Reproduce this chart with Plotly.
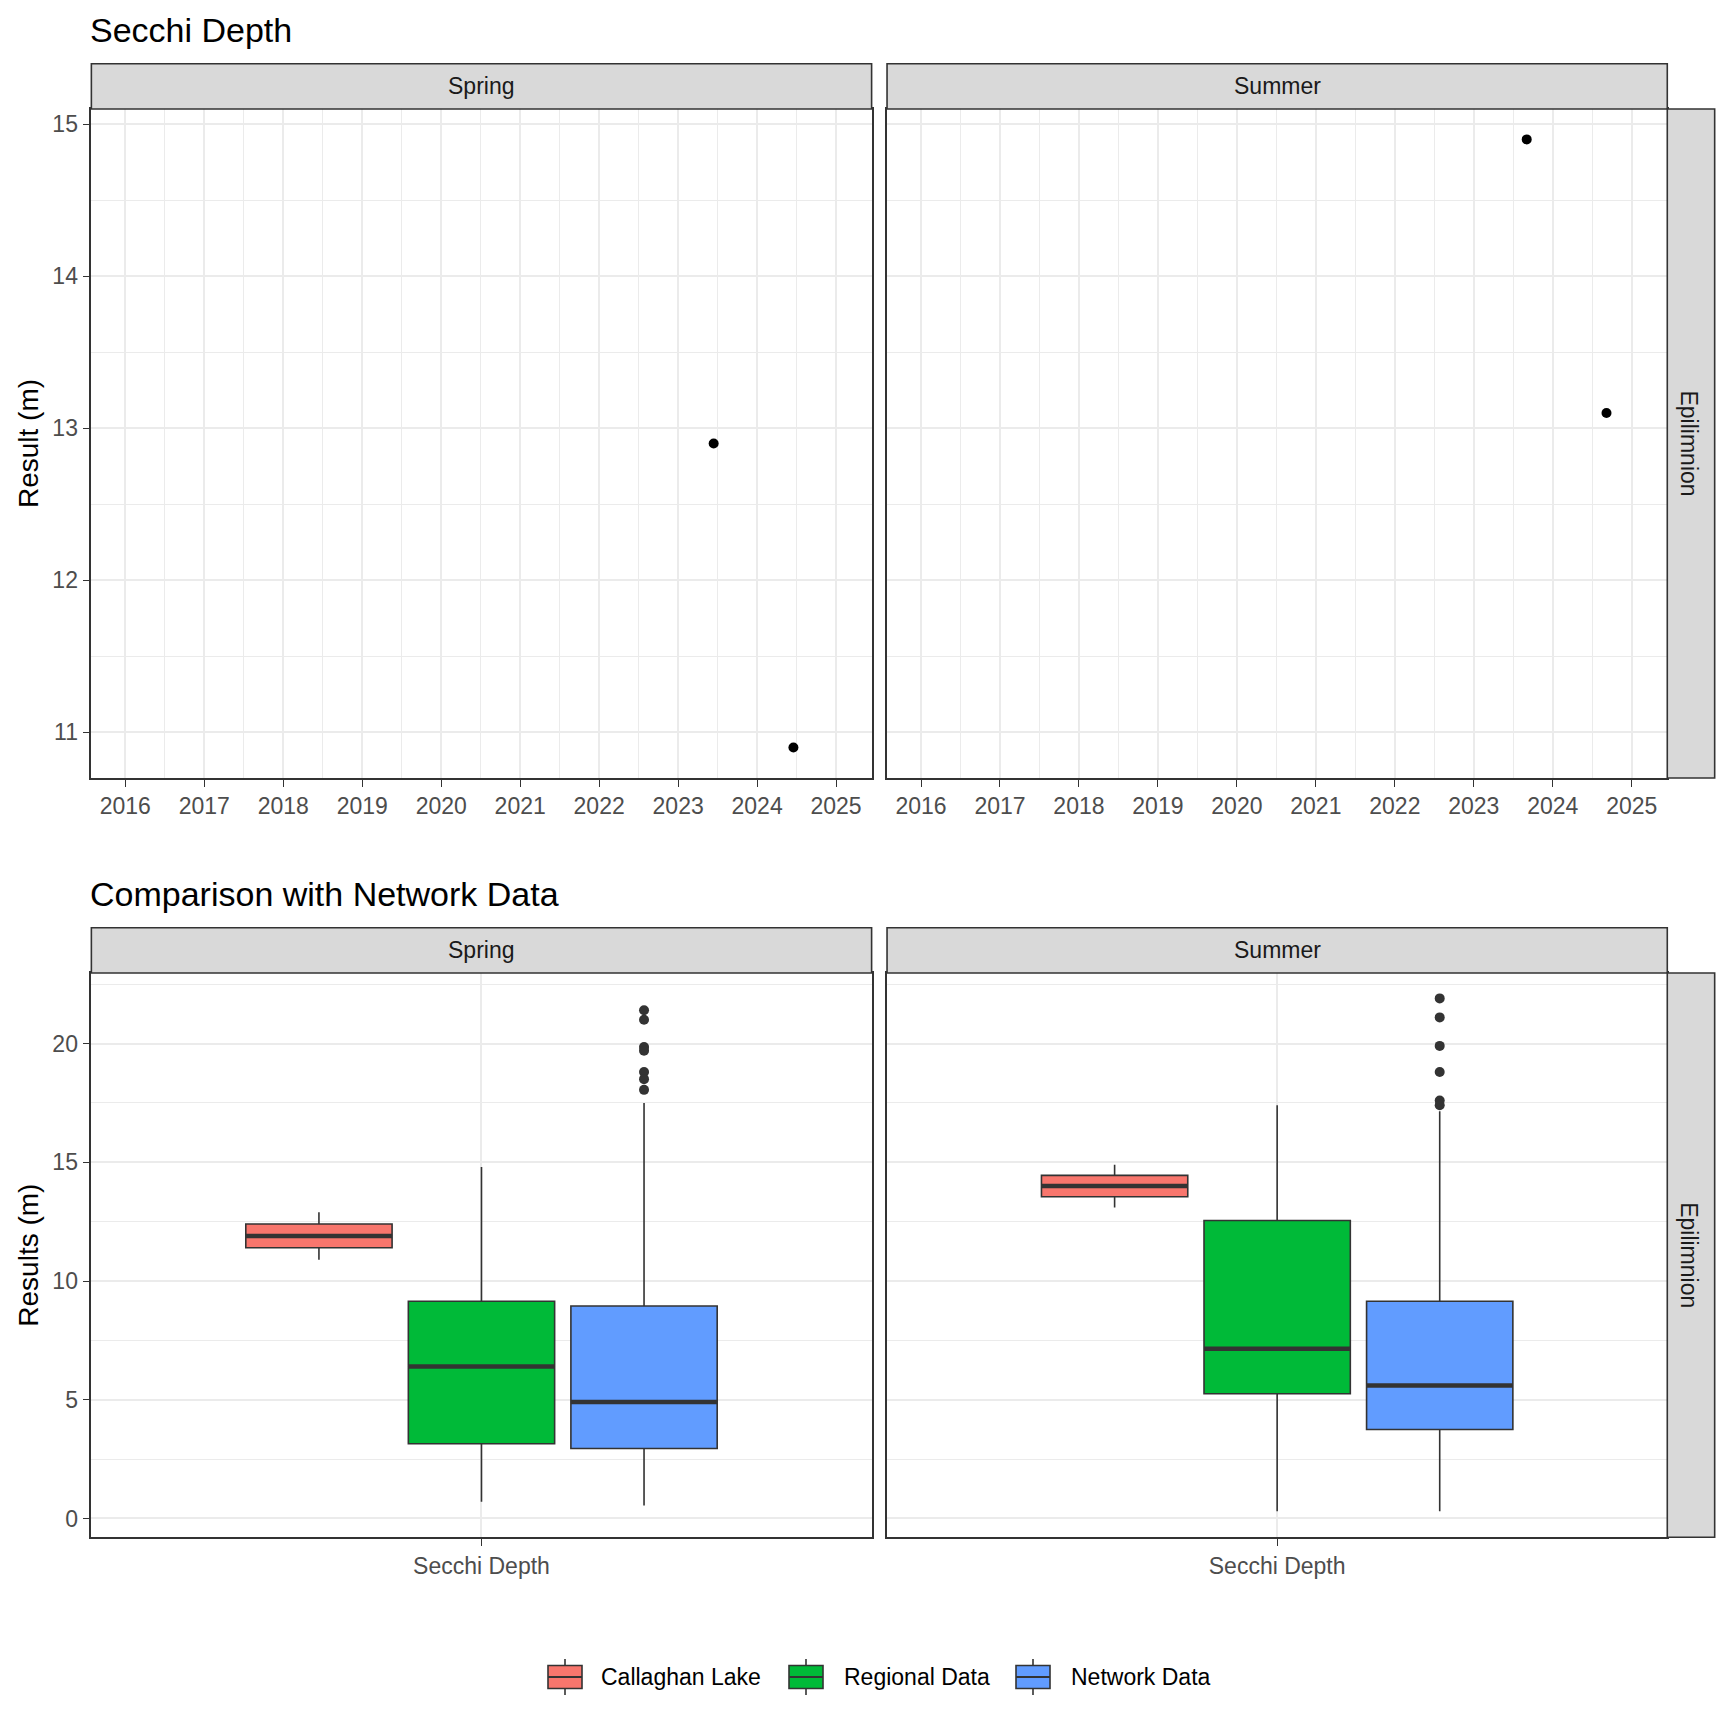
import plotly.graph_objects as go

# ---------------- data ----------------
seasons = ["Spring", "Summer"]
groups = ["Callaghan Lake", "Regional Data", "Network Data"]
colors = ["#F8766D", "#00BA38", "#619CFF"]

# Top: Secchi depth time series (decimal year, result m)
spring_year = [2023.45, 2024.46]
spring_result = [12.9, 10.9]
summer_year = [2023.67, 2024.68]
summer_result = [14.9, 13.1]

# Bottom: box statistics [lower whisker, q1, median, q3, upper whisker]
spring_stats = {
    "Callaghan Lake": [10.9, 11.4, 11.9, 12.4, 12.9],
    "Regional Data": [0.7, 3.15, 6.4, 9.15, 14.8],
    "Network Data": [0.55, 2.95, 4.9, 8.95, 17.5],
}
summer_stats = {
    "Callaghan Lake": [13.1, 13.55, 14.0, 14.45, 14.9],
    "Regional Data": [0.3, 5.25, 7.15, 12.55, 17.4],
    "Network Data": [0.3, 3.75, 5.6, 9.15, 17.15],
}
spring_outliers = {"Network Data": [21.4, 21.0, 19.85, 19.7, 18.8, 18.5, 18.05]}
summer_outliers = {"Network Data": [21.9, 21.1, 19.9, 18.8, 17.6, 17.4]}

x_tick_years = list(range(2016, 2026))
category_label = "Secchi Depth"

# ---------------- layout helpers ----------------
W = H = 1728
OFF = 7  # page body margin compensation
def px(v):
    return (v - OFF) / W
def py(v):
    return 1 - (v - OFF) / H

S = 1728 / 1568.0
XL = [82 * S, 804 * S]
XR = [790 * S, 1512 * S]
STRIP_R = 1555 * S
TOP_STRIP = (57 * S, 98 * S)
TOP_PANEL = (98 * S, 705 * S)
BOT_STRIP = (841 * S, 882 * S)
BOT_PANEL = (882 * S, 1394 * S)

GRID = "#EBEBEB"
DARK = "#333333"
FONT = "Liberation Sans, Arial, sans-serif"

fig = go.Figure()

# top scatter
for i, (xs, ys) in enumerate([(spring_year, spring_result), (summer_year, summer_result)]):
    fig.add_trace(go.Scatter(
        x=xs, y=ys, mode="markers",
        marker=dict(color="black", size=10),
        xaxis="x" if i == 0 else "x2", yaxis="y" if i == 0 else "y2",
        showlegend=False, hoverinfo="skip"))

# bottom boxes
dodge = 0.25
bw = 0.225
for si, (stats, outl) in enumerate([(spring_stats, spring_outliers), (summer_stats, summer_outliers)]):
    xa = "x3" if si == 0 else "x4"
    ya = "y3" if si == 0 else "y4"
    for gi, g in enumerate(groups):
        lo, q1, med, q3, hi = stats[g]
        pos = 1 + (gi - 1) * dodge
        fig.add_trace(go.Box(
            x=[pos], q1=[q1], median=[med], q3=[q3], lowerfence=[lo], upperfence=[hi],
            width=bw, whiskerwidth=0, boxpoints=False,
            fillcolor=colors[gi], line=dict(color=DARK, width=1.6),
            name=g, legendgroup=g, showlegend=False,
            xaxis=xa, yaxis=ya, hoverinfo="skip"))
        fig.add_trace(go.Scatter(
            x=[pos - bw / 2, pos + bw / 2], y=[med, med], mode="lines",
            line=dict(color=DARK, width=4.5), showlegend=False,
            xaxis=xa, yaxis=ya, hoverinfo="skip"))
        if g in outl:
            fig.add_trace(go.Scatter(
                x=[pos] * len(outl[g]), y=outl[g], mode="markers",
                marker=dict(color=DARK, size=10), showlegend=False,
                xaxis=xa, yaxis=ya, hoverinfo="skip"))

tickfont = dict(family=FONT, size=23, color="#4D4D4D")
axis_common = dict(
    showline=True, mirror=True, linecolor=DARK, linewidth=1.6,
    ticks="outside", ticklen=7, tickcolor=DARK, tickwidth=1.4,
    showgrid=True, gridcolor=GRID, gridwidth=1.6, zeroline=False,
    tickfont=tickfont, fixedrange=True,
)

layout = dict(
    width=W, height=H, margin=dict(l=0, r=0, t=0, b=0),
    paper_bgcolor="white", plot_bgcolor="white",
    font=dict(family=FONT),
    showlegend=False,
)

for i in range(2):
    k = "" if i == 0 else "2"
    layout["xaxis" + k] = dict(axis_common, domain=[px(XL[i]), px(XR[i])], anchor="y" + k,
                               range=[2015.57, 2025.45], tickvals=x_tick_years,
                               minor=dict(dtick=0.5, tick0=2015.5, showgrid=True, gridcolor=GRID, gridwidth=0.8, ticks=""))
    layout["yaxis" + k] = dict(axis_common, domain=[py(TOP_PANEL[1]), py(TOP_PANEL[0])], anchor="x" + k,
                               range=[10.7, 15.1], dtick=1, tick0=11, showticklabels=(i == 0),
                               ticks="outside" if i == 0 else "",
                               minor=dict(dtick=0.5, tick0=10.5, showgrid=True, gridcolor=GRID, gridwidth=0.8, ticks=""))
    k2 = str(3 + i)
    layout["xaxis" + k2] = dict(axis_common, domain=[px(XL[i]), px(XR[i])], anchor="y" + k2,
                                range=[0.4, 1.6], tickvals=[1], ticktext=[category_label])
    layout["yaxis" + k2] = dict(axis_common, domain=[py(BOT_PANEL[1]), py(BOT_PANEL[0])], anchor="x" + k2,
                                range=[-0.79, 22.97], dtick=5, tick0=0, showticklabels=(i == 0),
                                ticks="outside" if i == 0 else "",
                                minor=dict(dtick=2.5, tick0=0, showgrid=True, gridcolor=GRID, gridwidth=0.8, ticks=""))

shapes = []
annotations = []
strip_font = dict(family=FONT, size=23, color="#1A1A1A")
for (st, pn) in [(TOP_STRIP, TOP_PANEL), (BOT_STRIP, BOT_PANEL)]:
    for i, s in enumerate(seasons):
        shapes.append(dict(type="rect", xref="paper", yref="paper",
                           x0=px(XL[i]), x1=px(XR[i]), y0=py(st[1]), y1=py(st[0]),
                           fillcolor="#D9D9D9", line=dict(color=DARK, width=1.6), layer="above"))
        annotations.append(dict(text=s, xref="paper", yref="paper",
                                x=px((XL[i] + XR[i]) / 2), y=py((st[0] + st[1]) / 2),
                                showarrow=False, font=strip_font, xanchor="center", yanchor="middle"))
    shapes.append(dict(type="rect", xref="paper", yref="paper",
                       x0=px(XR[1]), x1=px(STRIP_R), y0=py(pn[1]), y1=py(pn[0]),
                       fillcolor="#D9D9D9", line=dict(color=DARK, width=1.6), layer="above"))
    annotations.append(dict(text="Epilimnion", xref="paper", yref="paper",
                            x=px((XR[1] + STRIP_R) / 2 - 2), y=py((pn[0] + pn[1]) / 2),
                            textangle=90, showarrow=False, font=strip_font,
                            xanchor="center", yanchor="middle"))

title_font = dict(family=FONT, size=34, color="black")
annotations.append(dict(text="Secchi Depth", xref="paper", yref="paper",
                        x=px(XL[0] - 3), y=py(26 * S), xanchor="left", yanchor="middle",
                        showarrow=False, font=title_font))
annotations.append(dict(text="Comparison with Network Data", xref="paper", yref="paper",
                        x=px(XL[0] - 3), y=py(810 * S), xanchor="left", yanchor="middle",
                        showarrow=False, font=title_font))
axt_font = dict(family=FONT, size=28, color="black")
annotations.append(dict(text="Result (m)", xref="paper", yref="paper",
                        x=px(25 * S), y=py((TOP_PANEL[0] + TOP_PANEL[1]) / 2), textangle=-90,
                        xanchor="center", yanchor="middle", showarrow=False, font=axt_font))
annotations.append(dict(text="Results (m)", xref="paper", yref="paper",
                        x=px(25 * S), y=py((BOT_PANEL[0] + BOT_PANEL[1]) / 2), textangle=-90,
                        xanchor="center", yanchor="middle", showarrow=False, font=axt_font))

# ggplot-style legend with boxplot keys
leg_key_x = [547, 788, 1015]
leg_text_x = [598, 841, 1068]
LEG_Y = 1676
for gi, g in enumerate(groups):
    x0 = leg_key_x[gi]
    x1 = x0 + 34
    xm = (x0 + x1) / 2
    shapes.append(dict(type="line", xref="paper", yref="paper",
                       x0=px(xm), x1=px(xm), y0=py(LEG_Y - 18), y1=py(LEG_Y + 18),
                       line=dict(color=DARK, width=1.6)))
    shapes.append(dict(type="rect", xref="paper", yref="paper",
                       x0=px(x0), x1=px(x1), y0=py(LEG_Y + 11.5), y1=py(LEG_Y - 11.5),
                       fillcolor=colors[gi], line=dict(color=DARK, width=1.6)))
    shapes.append(dict(type="line", xref="paper", yref="paper",
                       x0=px(x0), x1=px(x1), y0=py(LEG_Y), y1=py(LEG_Y),
                       line=dict(color=DARK, width=1.8)))
    annotations.append(dict(text=g, xref="paper", yref="paper",
                            x=px(leg_text_x[gi]), y=py(LEG_Y), xanchor="left", yanchor="middle",
                            showarrow=False, font=dict(family=FONT, size=23, color="black")))

layout["shapes"] = shapes
layout["annotations"] = annotations

fig.update_layout(**layout)
fig.write_html("out.html")
